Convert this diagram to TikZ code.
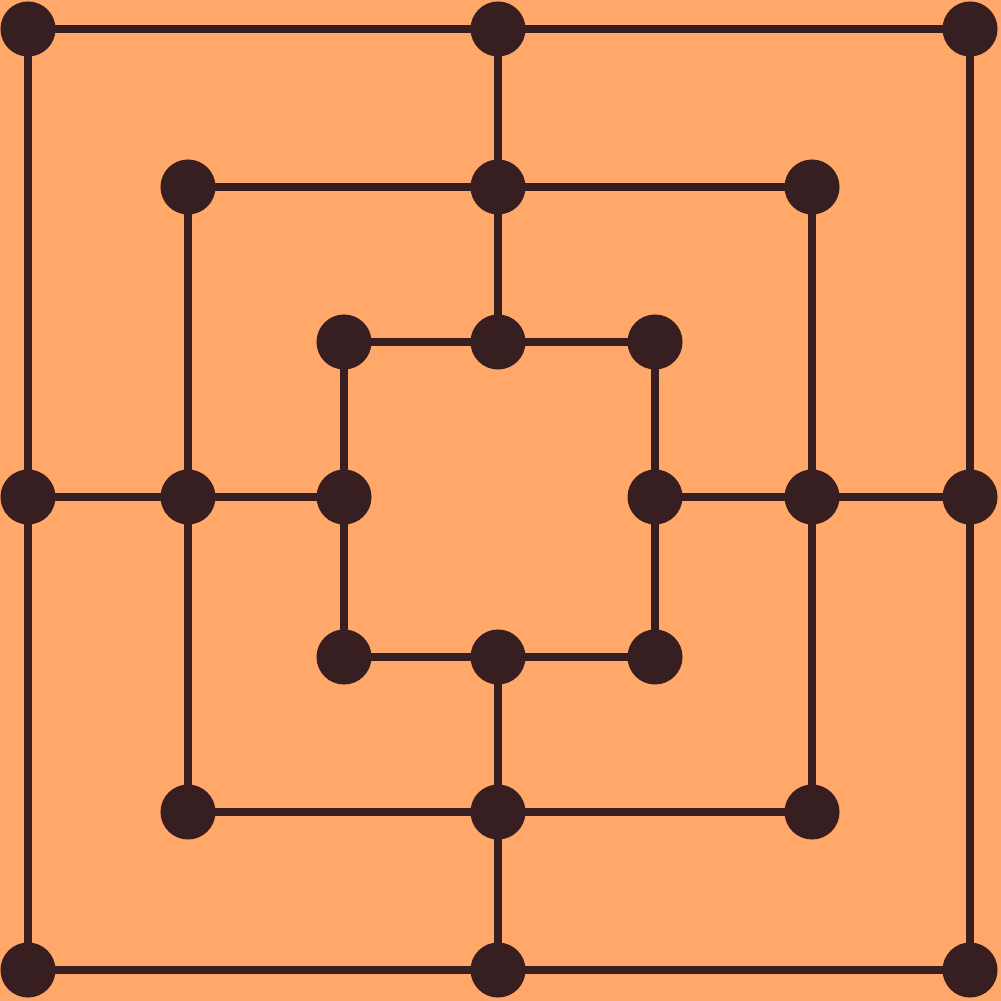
\documentclass[tikz,border=0pt]{standalone}
\usepackage{tikz}
\usetikzlibrary{positioning,backgrounds}
\definecolor{board}{HTML}{FFA86A}
\definecolor{piece}{HTML}{371E20}

\begin{document}
\begin{tikzpicture}[x=0.01cm, y=-0.01cm,
    spot/.style={circle, fill=piece, minimum size=0.55cm, inner sep=0pt},
    link/.style={draw=piece, line width=0.085cm}]
    \useasboundingbox (0,0) rectangle (1001,1001);

    % Carre exterieur
    \node[spot] (oa) at (28,29) {};
    \node[spot] (ob) at (498,29) {};
    \node[spot] (oc) at (970,29) {};
    \node[spot] (od) at (970,497) {};
    \node[spot] (oe) at (970,970) {};
    \node[spot] (of) at (498,970) {};
    \node[spot] (og) at (28,970) {};
    \node[spot] (oh) at (28,497) {};

    % Carre du milieu
    \node[spot] (ma) at (188,187) {};
    \node[spot] (mb) at (498,187) {};
    \node[spot] (mc) at (812,187) {};
    \node[spot] (md) at (812,497) {};
    \node[spot] (me) at (812,812) {};
    \node[spot] (mf) at (498,812) {};
    \node[spot] (mg) at (188,812) {};
    \node[spot] (mh) at (188,497) {};

    % Carre interieur
    \node[spot] (ia) at (344,342) {};
    \node[spot] (ib) at (498,342) {};
    \node[spot] (ic) at (655,342) {};
    \node[spot] (id) at (655,497) {};
    \node[spot] (ie) at (655,657) {};
    \node[spot] (if) at (498,657) {};
    \node[spot] (ig) at (344,657) {};
    \node[spot] (ih) at (344,497) {};

    \begin{scope}[on background layer]
    % Fond du plateau
    \fill[board] (0,0) rectangle (1001,1001);
    % Lignes
    \foreach \r in {o,m,i} {
        \path[link] (\r a.center) -- (\r b.center) -- (\r c.center) -- (\r d.center)
            -- (\r e.center) -- (\r f.center) -- (\r g.center) -- (\r h.center) -- cycle;
    }
    \path[link] (ob.center) -- (ib.center);
    \path[link] (of.center) -- (if.center);
    \path[link] (oh.center) -- (ih.center);
    \path[link] (od.center) -- (id.center);
    \end{scope}
\end{tikzpicture}
\end{document}
